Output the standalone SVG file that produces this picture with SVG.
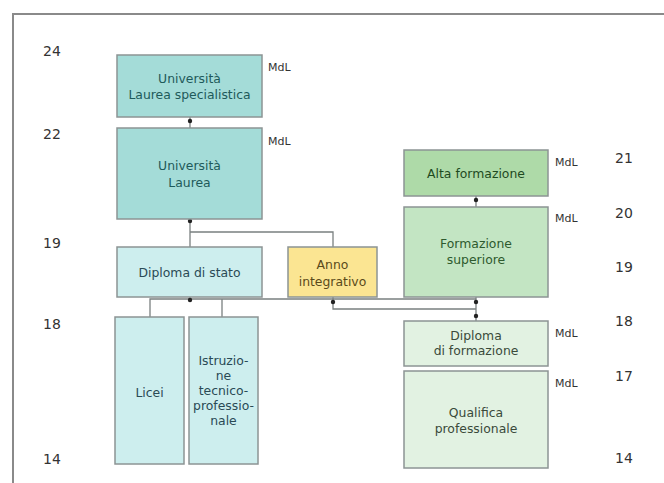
<svg xmlns="http://www.w3.org/2000/svg" width="664" height="483" viewBox="0 0 664 483">
<style>
.box{stroke:#8c9494;stroke-width:1.5}
.t{font-family:"DejaVu Sans",Verdana,sans-serif;font-size:12.4px;text-anchor:middle}
.num{font-family:"DejaVu Sans",Verdana,sans-serif;font-size:14px;fill:#333}
.mdl{font-family:"DejaVu Sans",Verdana,sans-serif;font-size:11px;fill:#333}
.c{fill:none;stroke:#7a8080;stroke-width:1.3}
.d{fill:#222}
</style>
<rect width="664" height="483" fill="#ffffff"/>
<path d="M13 483 V14 H664" fill="none" stroke="#8a8a8a" stroke-width="2"/>
<g id="ages-left">
<text class="num" x="43" y="56">24</text>
<text class="num" x="43" y="139">22</text>
<text class="num" x="43" y="248">19</text>
<text class="num" x="43" y="329">18</text>
<text class="num" x="43" y="464">14</text>
</g>
<g id="ages-right">
<text class="num" x="615" y="163">21</text>
<text class="num" x="615" y="218">20</text>
<text class="num" x="615" y="272">19</text>
<text class="num" x="615" y="326">18</text>
<text class="num" x="615" y="381">17</text>
<text class="num" x="615" y="463">14</text>
</g>
<g id="connectors">
<path class="c" d="M190 128 V117"/>
<path class="c" d="M190 247 V219 M190 232 H333 V247"/>
<path class="c" d="M476 207 V196"/>
<path class="c" d="M150 317 V299 H476 M222 317 V299 M190 299 V297"/>
<path class="c" d="M333 297 V309 H476 M476 297 V321"/>
<circle class="d" cx="190" cy="121" r="2.2"/>
<circle class="d" cx="190" cy="221" r="2.2"/>
<circle class="d" cx="476" cy="200" r="2.2"/>
<circle class="d" cx="190" cy="300" r="2.2"/>
<circle class="d" cx="333" cy="302" r="2.2"/>
<circle class="d" cx="476" cy="302" r="2.2"/>
<circle class="d" cx="476" cy="316" r="2.2"/>
</g>
<g id="laurea-specialistica">
<rect class="box" x="117" y="55" width="145" height="62" fill="#a4dcd8"/>
<text class="t" x="189.5" y="83" fill="#1e5a5a">Università</text>
<text class="t" x="189.5" y="99" fill="#1e5a5a">Laurea specialistica</text>
<text class="mdl" x="268" y="71">MdL</text>
</g>
<g id="laurea">
<rect class="box" x="117" y="128" width="145" height="91" fill="#a4dcd8"/>
<text class="t" x="189.5" y="170" fill="#1e5a5a">Università</text>
<text class="t" x="189.5" y="187" fill="#1e5a5a">Laurea</text>
<text class="mdl" x="268" y="145">MdL</text>
</g>
<g id="diploma-stato">
<rect class="box" x="117" y="247" width="145" height="50" fill="#cdeeee"/>
<text class="t" x="189.5" y="277" fill="#2a4a55">Diploma di stato</text>
</g>
<g id="anno-integrativo">
<rect class="box" x="288" y="247" width="89" height="50" fill="#fbe592" stroke="#a8a080"/>
<text class="t" x="332.5" y="269" fill="#5a4a1a">Anno</text>
<text class="t" x="332.5" y="286" fill="#5a4a1a">integrativo</text>
</g>
<g id="licei">
<rect class="box" x="115" y="317" width="69" height="147" fill="#cdeeee"/>
<text class="t" x="149.5" y="397" fill="#2a4a55">Licei</text>
</g>
<g id="istruzione">
<rect class="box" x="189" y="317" width="69" height="147" fill="#cdeeee"/>
<text class="t" x="223.5" y="365" fill="#2a4a55">Istruzio-</text>
<text class="t" x="223.5" y="380" fill="#2a4a55">ne</text>
<text class="t" x="223.5" y="395" fill="#2a4a55">tecnico-</text>
<text class="t" x="223.5" y="410" fill="#2a4a55">professio-</text>
<text class="t" x="223.5" y="425" fill="#2a4a55">nale</text>
</g>
<g id="alta-formazione">
<rect class="box" x="404" y="150" width="144" height="46" fill="#aedaa8"/>
<text class="t" x="476" y="178" fill="#1e4a1e">Alta formazione</text>
<text class="mdl" x="555" y="166">MdL</text>
</g>
<g id="formazione-superiore">
<rect class="box" x="404" y="207" width="144" height="90" fill="#c3e5c3"/>
<text class="t" x="476" y="248" fill="#2e5a2e">Formazione</text>
<text class="t" x="476" y="264" fill="#2e5a2e">superiore</text>
<text class="mdl" x="555" y="222">MdL</text>
</g>
<g id="diploma-formazione">
<rect class="box" x="404" y="321" width="144" height="45" fill="#e2f2e2"/>
<text class="t" x="476" y="340" fill="#3a4a3a">Diploma</text>
<text class="t" x="476" y="355" fill="#3a4a3a">di formazione</text>
<text class="mdl" x="555" y="337">MdL</text>
</g>
<g id="qualifica">
<rect class="box" x="404" y="371" width="144" height="97" fill="#e2f2e2"/>
<text class="t" x="476" y="417" fill="#3a4a3a">Qualifica</text>
<text class="t" x="476" y="433" fill="#3a4a3a">professionale</text>
<text class="mdl" x="555" y="387">MdL</text>
</g>
</svg>
